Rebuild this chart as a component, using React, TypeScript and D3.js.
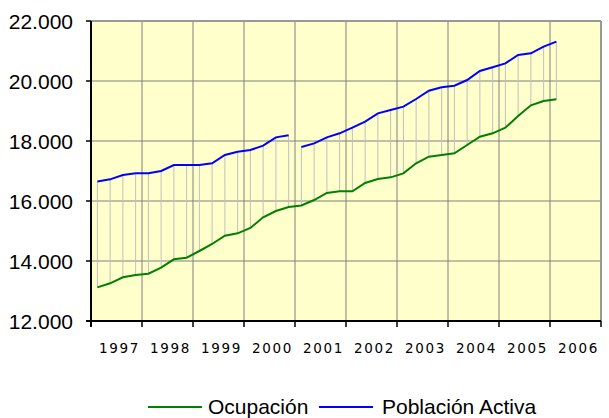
import React from "react";
import * as d3 from "d3";

const yearLabels = ["1997", "1998", "1999", "2000", "2001", "2002", "2003", "2004", "2005", "2006"];
const yTicks = [12000, 14000, 16000, 18000, 20000, 22000];

const ocupacion = [
  13120, 13257, 13457, 13533, 13578, 13778, 14057, 14111, 14333, 14567,
  14844, 14922, 15100, 15456, 15667, 15800, 15850, 16033, 16270, 16322,
  16322, 16600, 16733, 16789, 16922, 17256, 17478, 17533, 17589, 17867,
  18144, 18256, 18444, 18833, 19189, 19333, 19389,
];

const poblacionActiva = [
  16650, 16722, 16867, 16922, 16922, 17000, 17200, 17200, 17200, 17256,
  17533, 17644, 17700, 17844, 18122, 18189, 17800, 17922, 18122, 18256,
  18444, 18644, 18922, 19033, 19144, 19400, 19678, 19789, 19844, 20033,
  20333, 20456, 20589, 20867, 20922, 21144, 21311,
];
// index where the Población Activa series breaks (new segment starts)
const breakIndex = 16;

const W = 609;
const H = 418;
const left = 91;
const right = 601;
const top = 21;
const bottom = 321;
const quartersTotal = 40;

export default function App() {
  const x = d3.scaleLinear().domain([0, quartersTotal]).range([left, right]);
  const y = d3.scaleLinear().domain([12000, 22000]).range([bottom, top]);
  const loc = d3.formatLocale({ decimal: ",", thousands: ".", grouping: [3], currency: ["", ""] });
  const fmt = loc.format(",d");

  const px = (i: number) => x(i + 0.5);
  const line = d3
    .line<number>()
    .x((_, i) => px(i))
    .y((d) => y(d));

  const blue1 = poblacionActiva.slice(0, breakIndex);
  const blue2 = poblacionActiva.slice(breakIndex);
  const lineOff = (off: number) =>
    d3
      .line<number>()
      .x((_, i) => px(i + off))
      .y((d) => y(d));

  const vGrid = d3.range(0, quartersTotal + 1, 4);

  return (
    <svg width={W} height={H} style={{ position: "absolute", left: 0, top: 0 }}>
      <rect x={left} y={top} width={right - left} height={bottom - top} fill="#FFFFCC" />
      {yTicks.map((t) => (
        <line key={"h" + t} x1={left} x2={right} y1={y(t)} y2={y(t)} stroke="#808080" strokeWidth={1} />
      ))}
      {vGrid.map((q) => (
        <line key={"v" + q} x1={x(q)} x2={x(q)} y1={top} y2={bottom} stroke="#808080" strokeWidth={1} />
      ))}
      {/* drop lines */}
      {ocupacion.map((v, i) => (
        <line
          key={"d" + i}
          x1={px(i)}
          x2={px(i)}
          y1={y(v)}
          y2={y(poblacionActiva[i])}
          stroke="#C0C0C0"
          strokeWidth={1}
        />
      ))}
      <path d={line(ocupacion) || ""} fill="none" stroke="#008000" strokeWidth={2} />
      <path d={lineOff(0)(blue1) || ""} fill="none" stroke="#0000FF" strokeWidth={2} />
      <path d={lineOff(breakIndex)(blue2) || ""} fill="none" stroke="#0000FF" strokeWidth={2} />

      {/* borders */}
      <line x1={left} x2={right} y1={top} y2={top} stroke="#999999" strokeWidth={2} />
      <line x1={right} x2={right} y1={top} y2={bottom} stroke="#999999" strokeWidth={2} />
      <line x1={left} x2={left} y1={top} y2={bottom + 6} stroke="#000" strokeWidth={2} />
      <line x1={left - 5} x2={right} y1={bottom} y2={bottom} stroke="#000" strokeWidth={2} />

      {yTicks.map((t) => (
        <g key={"yt" + t}>
          <line x1={left - 5} x2={left} y1={y(t)} y2={y(t)} stroke="#000" strokeWidth={1.5} />
          <text
            x={73}
            y={y(t)}
            dy="0.36em"
            textAnchor="end"
            fontFamily="Liberation Sans, Arial, sans-serif"
            fontSize={21}
            fill="#000"
          >
            {fmt(t)}
          </text>
        </g>
      ))}
      {vGrid.map((q) => (
        <line key={"xt" + q} x1={x(q)} x2={x(q)} y1={bottom} y2={bottom + 6} stroke="#000" strokeWidth={1.5} />
      ))}
      {yearLabels.map((lab, k) => (
        <text
          key={lab}
          x={x(k * 4 + 2) + 3}
          y={353}
          textAnchor="middle"
          fontFamily="DejaVu Sans, Verdana, sans-serif"
          fontSize={13.5}
          letterSpacing={1.6}
          fill="#000"
        >
          {lab}
        </text>
      ))}

      {/* legend */}
      <line x1={148} x2={202} y1={407} y2={407} stroke="#008000" strokeWidth={2} />
      <text x={208} y={414} fontFamily="Liberation Sans, Arial, sans-serif" fontSize={21} fill="#000">
        Ocupación
      </text>
      <line x1={319} x2={373} y1={407} y2={407} stroke="#0000FF" strokeWidth={2} />
      <text x={382} y={414} fontFamily="Liberation Sans, Arial, sans-serif" fontSize={21} fill="#000">
        Población Activa
      </text>
    </svg>
  );
}
